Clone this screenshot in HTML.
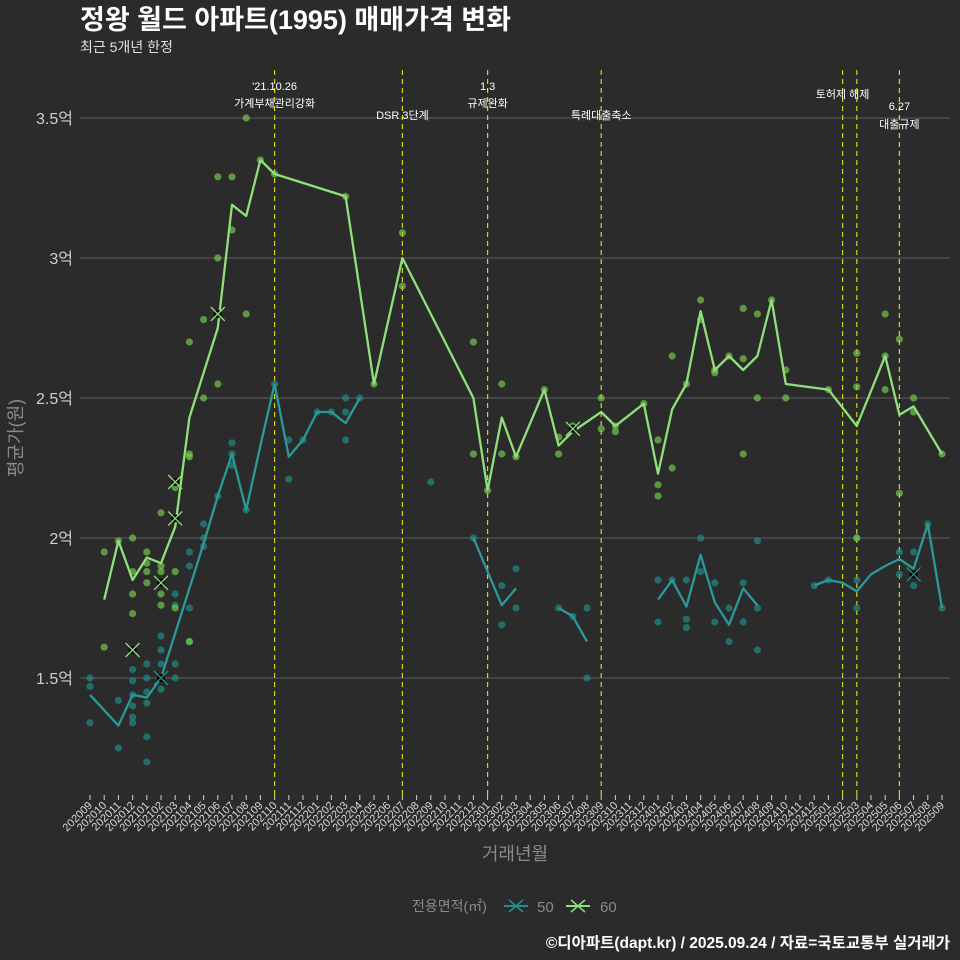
<!DOCTYPE html>
<html><head><meta charset="utf-8">
<style>
body{margin:0;background:#2b2b2b;}
svg{display:block;font-family:"Liberation Sans","Noto Sans CJK KR",sans-serif;}
</style></head>
<body>
<svg id="chart" width="960" height="960" viewBox="0 0 960 960">
<rect width="960" height="960" fill="#2b2b2b"/>
<text x="80" y="29" fill="#ffffff" font-size="27" font-weight="bold">정왕 월드 아파트(1995) 매매가격 변화</text>
<text x="80" y="52" fill="#e0e0e0" font-size="14">최근 5개년 한정</text>
<g id="grid"></g><g id="events"></g><g id="points"></g><g id="lines"></g><g id="xaxis"></g><g id="yaxis"></g>
<text x="515" y="860" fill="#8a8a8a" font-size="18" text-anchor="middle">거래년월</text>
<text transform="translate(22,438) rotate(-90)" fill="#8a8a8a" font-size="18" text-anchor="middle">평균가(원)</text>
<g>
<text x="412" y="911" fill="#8a8a8a" font-size="14">전용면적(㎡)</text>
<g><line x1="504" y1="906" x2="528" y2="906" stroke="#21908c" stroke-width="2"/><path d="M509 900 L523 912 M523 900 L509 912" stroke="#21908c" stroke-width="1.5"/><text x="537" y="912" fill="#8a8a8a" font-size="15">50</text></g>
<g><line x1="566" y1="906" x2="590" y2="906" stroke="#8fe07a" stroke-width="2"/><path d="M571 900 L585 912 M585 900 L571 912" stroke="#8fe07a" stroke-width="1.5"/><text x="600" y="912" fill="#8a8a8a" font-size="15">60</text></g>
</g>
<text x="950" y="948" fill="#ffffff" font-size="15.5" font-weight="bold" text-anchor="end">©디아파트(dapt.kr) / 2025.09.24 / 자료=국토교통부 실거래가</text>
</svg>
<script>
const months=[];for(let y=2020,m=9;!(y===2025&&m===10);){months.push(''+y+(m<10?'0':'')+m);m++;if(m>12){m=1;y++;}}
const yTicks=[1.5,2,2.5,3,3.5];
const yTickLabels=['1.5억','2억','2.5억','3억','3.5억'];
const line60=[null,1.78,1.99,1.85,1.93,1.91,2.04,2.43,2.59,2.75,3.19,3.15,3.35,3.30,null,null,null,null,3.22,null,2.55,null,3.0,null,null,null,null,2.5,2.17,2.43,2.29,null,2.53,2.33,2.38,null,2.45,2.40,null,2.48,2.23,2.46,2.55,2.81,2.60,2.65,2.60,2.65,2.85,2.55,null,null,2.53,null,2.40,null,2.65,2.44,2.47,null,2.30];
const line50=[1.44,null,1.33,1.44,1.43,1.50,1.66,1.82,1.98,2.15,2.30,2.10,2.33,2.55,2.29,2.35,2.45,2.45,2.41,2.50,null,null,null,null,null,null,null,2.00,1.88,1.76,1.82,null,null,1.75,1.72,1.63,null,null,null,null,1.78,1.85,1.755,1.94,1.77,1.69,1.82,1.76,null,null,null,1.83,1.85,1.84,1.81,1.87,1.90,1.925,1.89,2.05,1.75];
const breaks50=[20,31,36,48];
const pts60=[[1,1.95],[1,1.61],[2,1.99],[3,2.0],[3,1.88],[3,1.80],[3,1.73],[4,1.95],[4,1.91],[4,1.88],[4,1.84],[5,2.09],[5,1.90],[5,1.88],[5,1.80],[5,1.76],[6,2.07],[6,1.88],[6,1.75],[6,2.20],[6,2.18],[7,2.29],[7,2.30],[7,2.70],[7,1.63],[8,2.50],[8,2.78],[9,3.29],[9,3.00],[9,2.55],[10,3.29],[10,3.10],[11,2.80],[11,3.50],[12,3.35],[13,3.30],[18,3.22],[20,2.55],[22,3.09],[22,2.90],[27,2.70],[27,2.30],[28,2.17],[29,2.55],[29,2.30],[30,2.29],[32,2.53],[33,2.30],[33,2.36],[34,2.40],[36,2.50],[36,2.39],[37,2.38],[37,2.40],[39,2.48],[40,2.35],[40,2.19],[40,2.15],[41,2.65],[41,2.25],[42,2.55],[43,2.85],[43,2.78],[44,2.59],[44,2.60],[45,2.65],[46,2.82],[46,2.64],[46,2.30],[47,2.80],[47,2.50],[48,2.85],[49,2.60],[49,2.50],[52,2.53],[54,2.66],[54,2.54],[54,2.00],[56,2.80],[56,2.65],[56,2.53],[57,2.71],[57,2.16],[58,2.50],[58,2.45],[60,2.30]];
const pts50=[[0,1.50],[0,1.47],[0,1.34],[2,1.42],[2,1.25],[3,1.53],[3,1.49],[3,1.44],[3,1.40],[3,1.36],[3,1.34],[4,1.55],[4,1.50],[4,1.45],[4,1.41],[4,1.29],[4,1.20],[5,1.65],[5,1.60],[5,1.55],[5,1.50],[5,1.46],[6,1.80],[6,1.76],[6,1.55],[6,1.50],[7,1.95],[7,1.90],[7,1.75],[7,1.63],[8,2.05],[8,2.00],[8,1.97],[9,2.15],[10,2.34],[10,2.30],[10,2.26],[11,2.10],[13,2.55],[14,2.35],[14,2.21],[15,2.35],[16,2.45],[17,2.45],[18,2.50],[18,2.35],[18,2.45],[19,2.50],[24,2.20],[27,2.00],[29,1.83],[29,1.69],[30,1.89],[30,1.75],[33,1.75],[34,1.72],[35,1.75],[35,1.50],[40,1.85],[40,1.70],[41,1.85],[42,1.85],[42,1.71],[42,1.68],[43,2.00],[43,1.88],[44,1.84],[44,1.70],[45,1.75],[45,1.63],[46,1.84],[46,1.70],[47,1.99],[47,1.75],[47,1.60],[51,1.83],[52,1.85],[54,2.0],[54,1.85],[54,1.75],[57,1.95],[57,1.87],[58,1.95],[58,1.83],[59,2.05],[60,1.75]];
const cross60=[[3,1.60],[5,1.84],[6,2.07],[6,2.20],[9,2.80],[34,2.39]];
const cross50=[[5,1.50],[58,1.87]];
const eventIdx=[13,22,28,36,53,54,57];
const eventLabels=[["'21.10.26","가계부채관리강화"],["DSR 3단계"],["1.3","규제완화"],["특례대출축소"],["토허제 해제"],[],["6.27","대출규제"]];
const eventLabelY=[[90,107],[119],[90,107],[119],[98],[],[110,128]];

const NS='http://www.w3.org/2000/svg';
const X=i=>90+i*14.2;
const Y=v=>118+(3.5-v)*280;
function mk(tag,attrs,parent){const e=document.createElementNS(NS,tag);for(const k in attrs)e.setAttribute(k,attrs[k]);parent.appendChild(e);return e;}
const G=id=>document.getElementById(id);

yTicks.forEach((t,k)=>{
  const l=mk('line',{x1:80,x2:950,y1:Y(t),y2:Y(t),stroke:'#5e5e5e','stroke-width':1},G('grid'));
  
  
  const tx=mk('text',{x:73,y:Y(t)+6,fill:'#cfcfcf','font-size':16,'text-anchor':'end'},G('yaxis'));
  tx.textContent=yTickLabels[k];
  
  
});
months.forEach((m,i)=>{
  const t=mk('line',{x1:X(i),x2:X(i),y1:795,y2:800,stroke:'#cfcfcf'},G('xaxis'));
  
  
  const tx=mk('text',{transform:`translate(${X(i)+3},806) rotate(-45)`,fill:'#d8d8d8','font-size':11,'text-anchor':'end'},G('xaxis'));
  tx.textContent=m;
  
  
});
eventIdx.forEach((i,k)=>{
  const l=mk('line',{x1:X(i),x2:X(i),y1:70,y2:795,stroke:'#d4d41a','stroke-width':1.2,'stroke-dasharray':'5,4'},G('events'));
  
  
  eventLabels[k].forEach((s,j)=>{
    const tx=mk('text',{x:X(i),y:eventLabelY[k][j],fill:'#ffffff','font-size':11,'text-anchor':'middle'},G('events'));
    tx.textContent=s;
    
    
  });
});
function dots(arr,color,name){arr.forEach(p=>{
  const c=mk('circle',{cx:X(p[0]),cy:Y(p[1]),r:3.6,fill:color,'fill-opacity':0.65},G('points'));
  
  
});}
dots(pts50,'#21908c','point-50');
dots(pts60,'#7ad151','point-60');
function drawLine(arr,color,name,breaks){
  let d='',pen=false;
  arr.forEach((v,i)=>{
    if(breaks.includes(i))pen=false;
    if(v===null)return;
    d+=(pen?'L':'M')+X(i)+' '+Y(v)+' ';pen=true;});
  const p=mk('path',{d:d,fill:'none',stroke:color,'stroke-width':2.3,'stroke-linejoin':'round'},G('lines'));
  
  
}
drawLine(line50,'#2a9a98','line-50',breaks50);
drawLine(line60,'#8fe07a','line-60',[]);
function crosses(arr,color,name){arr.forEach(p=>{
  const x=X(p[0]),y=Y(p[1]);
  const c=mk('circle',{cx:x,cy:y,r:4,fill:'#000'},G('lines'));
  
  
  const q=mk('path',{d:`M${x-7} ${y-7}L${x+7} ${y+7}M${x+7} ${y-7}L${x-7} ${y+7}`,stroke:color,'stroke-width':1.3},G('lines'));
  
  
});}
crosses(cross50,'#21908c','cross-50');
crosses(cross60,'#8fe07a','cross-60');
</script>
</body></html>
